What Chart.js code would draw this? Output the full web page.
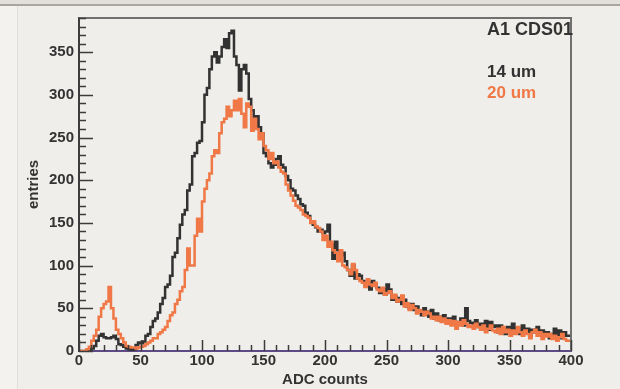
<!DOCTYPE html>
<html>
<head>
<meta charset="utf-8">
<script src="https://cdn.jsdelivr.net/npm/chart.js@4"></script>
<style>
  body { margin: 0; background: #efeeea; overflow: hidden; }
  #wrap { position: relative; width: 620px; height: 389px; }
  .topbar { position: absolute; left: 0; top: 0; width: 620px; height: 4px; background: #e2e0da; border-bottom: 2px solid #a9a59e; }
  .leftbar { position: absolute; left: 0; top: 6px; width: 17px; height: 383px; background: #f3f2ef; border-right: 1px solid #e0ded8; }
  canvas { position: absolute; left: 0; top: 0; }
</style>
</head>
<body>
<div id="wrap">
  <div class="topbar"></div>
  <div class="leftbar"></div>
  <canvas id="histo"></canvas>
</div>
<script>
// histogram binning (ADC counts)
const binWidth = 2;
const xMin = 0, xMax = 400;
const xTicks = [0, 50, 100, 150, 200, 250, 300, 350, 400];
const yTicks = [0, 50, 100, 150, 200, 250, 300, 350];

// entries per bin, bins start at 0,2,4,...,398
const counts14 = [
  0, 0, 0, 0, 0, 1, 3, 6, 12, 18,
  20, 16, 15, 15, 16, 18, 14, 8, 7, 5,
  3, 2, 1, 2, 7, 10, 9, 11, 18, 20,
  28, 35, 38, 45, 55, 62, 75, 78, 88, 110,
  115, 132, 148, 160, 165, 188, 195, 228, 232, 244,
  246, 268, 300, 308, 330, 345, 350, 338, 345, 356,
  365, 355, 372, 375, 345, 335, 305, 330, 335, 325,
  295, 282, 262, 275, 262, 255, 232, 228, 220, 215,
  218, 225, 228, 218, 215, 205, 200, 190, 188, 182,
  178, 172, 170, 162, 158, 152, 148, 145, 140, 142,
  138, 140, 148, 125, 108, 128, 118, 112, 115, 105,
  95, 88, 100, 85, 90, 88, 82, 78, 80, 72,
  82, 78, 74, 68, 72, 66, 78, 72, 60, 64,
  58, 62, 55, 60, 52, 50, 55, 48, 52, 46,
  42, 50, 46, 40, 48, 38, 44, 36, 40, 42,
  35, 38, 32, 40, 30, 34, 38, 30, 50, 35,
  33, 30, 36, 28, 32, 30, 35, 25, 34, 28,
  30, 22, 30, 26, 20, 28, 25, 32, 22, 27,
  20, 30, 22, 26, 18, 25, 22, 28, 20, 24,
  18, 22, 15, 20, 26, 18, 24, 15, 22, 18
];
const counts20 = [
  0, 0, 0, 0, 2, 5, 12, 18, 25, 40,
  50, 55, 58, 75, 50, 38, 25, 20, 15, 10,
  6, 5, 4, 4, 3, 4, 5, 6, 8, 10,
  12, 15, 15, 20, 22, 25, 28, 35, 42, 45,
  55, 60, 70, 75, 95, 120, 100, 100, 135, 155,
  140, 175, 190, 200, 208, 228, 235, 232, 255, 268,
  272, 286, 275, 282, 293, 282, 295, 278, 262, 290,
  286, 258, 272, 260, 248, 255, 240, 235, 225, 232,
  220, 222, 215, 210, 208, 195, 188, 182, 176, 170,
  168, 165, 160, 158, 156, 150, 152, 146, 144, 140,
  130, 135, 122, 128, 118, 115, 105, 118, 100, 98,
  95, 90, 102, 95, 85, 82, 80, 75, 84, 78,
  76, 80, 72, 70, 74, 66, 68, 70, 62, 66,
  58, 60, 65, 52, 56, 48, 54, 50, 44, 48,
  46, 42, 46, 44, 38, 40, 36, 40, 34, 38,
  32, 36, 30, 35, 26, 34, 30, 36, 32, 28,
  30, 26, 32, 28, 25, 30, 22, 26, 30, 24,
  22, 26, 20, 28, 22, 25, 18, 24, 20, 28,
  22, 18, 24, 20, 15, 22, 25, 18, 22, 14,
  20, 17, 20, 14, 18, 12, 16, 20, 14, 12
];

const seriesNames = ['14 um', '20 um'];
const seriesColors = ['#323232', '#ef7846'];
const plotTitle = 'A1 CDS01';

// step points: left edge of each bin + closing edge at xMax
function toSteps(counts) {
    const pts = counts.map((v, i) => ({ x: xMin + i * binWidth, y: v }));
    pts.push({ x: xMax, y: counts[counts.length - 1] });
    return pts;
}

const font = 'Liberation Sans, Arial, sans-serif';

// ROOT-like inner tick marks, frame and text
const rootStyle = {
    id: 'rootStyle',
    afterDatasetsDraw(chart) {
        const c = chart.ctx;
        const a = chart.chartArea;
        const xs = chart.scales.x, ys = chart.scales.y;
        c.save();
        // frame top / right
        c.strokeStyle = '#707070';
        c.lineWidth = 2;
        c.beginPath();
        c.moveTo(a.left, a.top);
        c.lineTo(a.right, a.top);
        c.lineTo(a.right, a.bottom);
        c.stroke();
        // y ticks
        c.strokeStyle = '#3c3c3c';
        c.lineWidth = 1.5;
        c.beginPath();
        for (let v = 0; v <= ys.max; v += 10) {
            const y = Math.round(ys.getPixelForValue(v)) + 0.5;
            const len = v % 50 === 0 ? 14 : 7;
            c.moveTo(a.left, y);
            c.lineTo(a.left + len, y);
        }
        c.stroke();
        // x ticks
        c.beginPath();
        for (let v = xMin; v <= xMax; v += 10) {
            const x = Math.round(xs.getPixelForValue(v)) + 0.5;
            const len = v % 50 === 0 ? 11 : 6;
            c.moveTo(x, a.bottom);
            c.lineTo(x, a.bottom - len);
        }
        c.stroke();
        // title
        c.fillStyle = '#333333';
        c.font = 'bold 18px ' + font;
        c.textAlign = 'right';
        c.textBaseline = 'middle';
        c.fillText(plotTitle, a.right + 2, 30);
        // legend
        c.font = 'bold 17px ' + font;
        c.textAlign = 'left';
        chart.data.datasets.forEach((ds) => {
            c.fillStyle = ds.borderColor;
            c.fillText(ds.label, 487, 72 + 21 * seriesNames.indexOf(ds.label));
        });
        c.restore();
    }
};

const ctx = document.getElementById('histo').getContext('2d');
const histo = new Chart(ctx, {
    type: 'line',
    data: {
        datasets: [
            {
                label: seriesNames[1],
                data: toSteps(counts20),
                borderColor: seriesColors[1],
                borderWidth: 2.5,
                stepped: 'after',
                pointRadius: 0,
                fill: false,
            },
            {
                label: seriesNames[0],
                data: toSteps(counts14),
                borderColor: seriesColors[0],
                borderWidth: 2.5,
                stepped: 'after',
                pointRadius: 0,
                fill: false,
            },
        ],
    },
    options: {
        responsive: true,
        maintainAspectRatio: false,
        animation: false,
        layout: { padding: { top: 18, right: 49, left: 0, bottom: 0 } },
        plugins: {
            legend: { display: false },
            tooltip: { enabled: false },
        },
        scales: {
            x: {
                type: 'linear',
                min: xMin,
                max: xMax,
                afterBuildTicks: (s) => { s.ticks = xTicks.map(v => ({ value: v })); },
                afterFit: (s) => { s.height = 38; },
                ticks: {
                    color: '#333333',
                    font: { family: font, size: 15, weight: 'bold' },
                    padding: 1,
                    maxRotation: 0,
                    autoSkip: false,
                },
                grid: { drawOnChartArea: false, drawTicks: false },
                border: { color: '#5e4a86', width: 2 },
                title: {
                    display: true,
                    text: 'ADC counts',
                    color: '#333333',
                    font: { family: font, size: 15, weight: 'bold' },
                    padding: { top: 0, bottom: 0 },
                },
            },
            y: {
                type: 'linear',
                min: 0,
                max: 390,
                afterBuildTicks: (s) => { s.ticks = yTicks.map(v => ({ value: v })); },
                afterFit: (s) => { s.width = 79; },
                ticks: {
                    color: '#333333',
                    font: { family: font, size: 15, weight: 'bold' },
                    padding: 5,
                },
                grid: { drawOnChartArea: false, drawTicks: false },
                border: { color: '#3c3c3c', width: 2 },
                title: {
                    display: true,
                    text: 'entries',
                    color: '#333333',
                    font: { family: font, size: 15, weight: 'bold' },
                    padding: { top: 25, bottom: 0 },
                },
            },
        },
    },
    plugins: [rootStyle],
});
</script>
</body>
</html>
